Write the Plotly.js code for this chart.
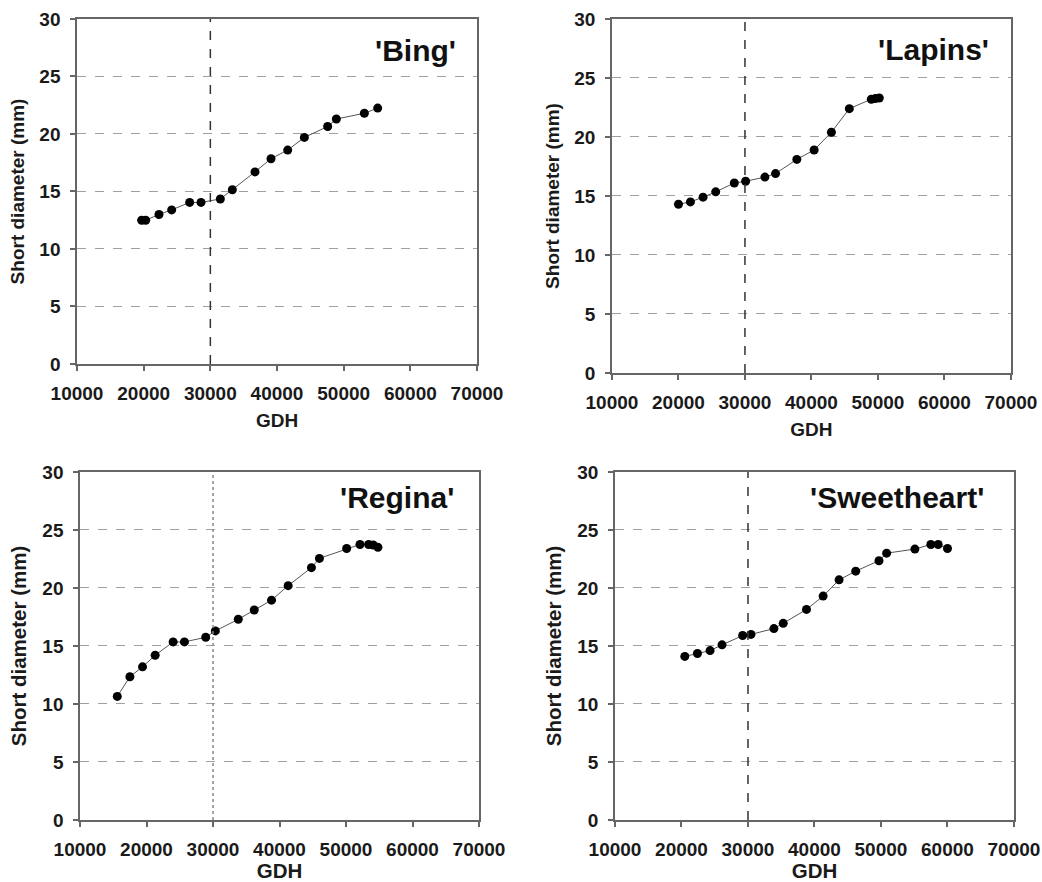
<!DOCTYPE html>
<html>
<head>
<meta charset="utf-8">
<script src="https://cdn.plot.ly/plotly-3.0.1.min.js"></script>
<style>html,body{margin:0;padding:0;background:#fff;}#chart{width:1042px;height:882px;}</style>
</head>
<body>
<div id="chart"></div>
<script>
// Data
const bingGDH = [19700, 20300, 22300, 24200, 26900, 28600, 31500, 33300, 36700, 39100, 41600, 44100, 47600, 48900, 53100, 55100];
const bingDiam = [12.5, 12.5, 13.0, 13.4, 14.05, 14.05, 14.35, 15.15, 16.7, 17.85, 18.6, 19.7, 20.65, 21.3, 21.8, 22.25];

const lapinsGDH = [20000, 21800, 23700, 25600, 28400, 30100, 33000, 34600, 37800, 40400, 43000, 45700, 49000, 49600, 50200];
const lapinsDiam = [14.3, 14.5, 14.9, 15.35, 16.1, 16.25, 16.6, 16.9, 18.1, 18.9, 20.4, 22.4, 23.2, 23.25, 23.3];

const reginaGDH = [15600, 17500, 19400, 21300, 24000, 25700, 28900, 30350, 33800, 36200, 38800, 41300, 44800, 46000, 50100, 52100, 53400, 54100, 54800];
const reginaDiam = [10.65, 12.35, 13.2, 14.2, 15.35, 15.35, 15.75, 16.3, 17.3, 18.1, 18.95, 20.2, 21.75, 22.55, 23.4, 23.75, 23.75, 23.7, 23.5];

const sweetGDH = [20500, 22400, 24300, 26100, 29200, 30450, 33900, 35300, 38800, 41300, 43700, 46200, 49700, 50850, 55100, 57500, 58600, 60000];
const sweetDiam = [14.1, 14.35, 14.6, 15.1, 15.9, 16.0, 16.5, 16.95, 18.15, 19.3, 20.7, 21.45, 22.35, 23.0, 23.35, 23.75, 23.75, 23.4];

const cultivars = ["'Bing'", "'Lapins'", "'Regina'", "'Sweetheart'"];
const xTicks = [10000, 20000, 30000, 40000, 50000, 60000, 70000];
const yTicks = [0, 5, 10, 15, 20, 25, 30];
const thresholdGDH = 30000;
const xTitle = 'GDH';
const yTitle = 'Short diameter (mm)';

const series = [[bingGDH, bingDiam], [lapinsGDH, lapinsDiam], [reginaGDH, reginaDiam], [sweetGDH, sweetDiam]];

const FONT = 'Liberation Sans, Arial, sans-serif';
const domains = [
  {x: [0.0739, 0.4578], y: [0.5873, 0.9785]},
  {x: [0.5873, 0.9702], y: [0.5771, 0.9785]},
  {x: [0.0768, 0.4597], y: [0.0703, 0.4649]},
  {x: [0.5902, 0.9731], y: [0.0703, 0.4649]}
];
const titleSize = [19, 19, 20.5, 20.5];
const labelPos = [[60700, 27.3], [58300, 27.4], [57700, 27.8], [52400, 27.8]];

const traces = [];
const layout = {
  width: 1042, height: 882,
  margin: {l: 0, r: 0, t: 0, b: 0},
  paper_bgcolor: '#fff', plot_bgcolor: '#fff',
  showlegend: false,
  font: {family: FONT, color: '#111'},
  annotations: [], shapes: []
};

series.forEach((s, i) => {
  const n = i === 0 ? '' : String(i + 1);
  traces.push({
    x: s[0], y: s[1], xaxis: 'x' + n, yaxis: 'y' + n,
    type: 'scatter', mode: 'lines+markers',
    line: {color: '#555', width: 1},
    marker: {color: '#000', size: 9},
    hoverinfo: 'x+y'
  });
  const axCommon = {
    showline: true, linecolor: '#666', linewidth: 1.5, mirror: true,
    ticks: 'outside', ticklen: 5, tickcolor: '#666', tickwidth: 1.5,
    tickfont: {family: FONT, size: 19, color: '#1a1a1a', weight: 'bold'},
    ticklabelstandoff: 6,
    zeroline: false
  };
  layout['xaxis' + n] = Object.assign({}, axCommon, {
    domain: domains[i].x, anchor: 'y' + n,
    range: [10000, 70000], tickvals: xTicks, ticktext: xTicks.map(String),
    showgrid: false,
    title: {text: '<b>' + xTitle + '</b>', font: {family: FONT, size: titleSize[i], color: '#1a1a1a'}, standoff: 11}
  });
  layout['yaxis' + n] = Object.assign({}, axCommon, {
    domain: domains[i].y, anchor: 'x' + n,
    range: [0, 30], tickvals: yTicks, ticktext: yTicks.map(String),
    showgrid: true, gridcolor: '#a0a0a0', griddash: 'dash', gridwidth: 1,
    title: {text: '<b>' + yTitle + '</b>', font: {family: FONT, size: titleSize[i], color: '#1a1a1a'}, standoff: 10}
  });
  layout.shapes.push({
    type: 'line', xref: 'x' + n, yref: 'y' + n,
    x0: thresholdGDH, x1: thresholdGDH, y0: 0, y1: 30,
    line: {color: i === 2 ? '#888' : '#333', width: 1.5, dash: i === 2 ? 'dot' : 'dash'}
  });
  layout.annotations.push({
    xref: 'x' + n, yref: 'y' + n, x: labelPos[i][0], y: labelPos[i][1],
    text: '<b>' + cultivars[i] + '</b>', showarrow: false,
    font: {family: FONT, size: 30, color: '#111'}
  });
});

Plotly.newPlot('chart', traces, layout, {displayModeBar: false, responsive: false});
</script>
</body>
</html>
